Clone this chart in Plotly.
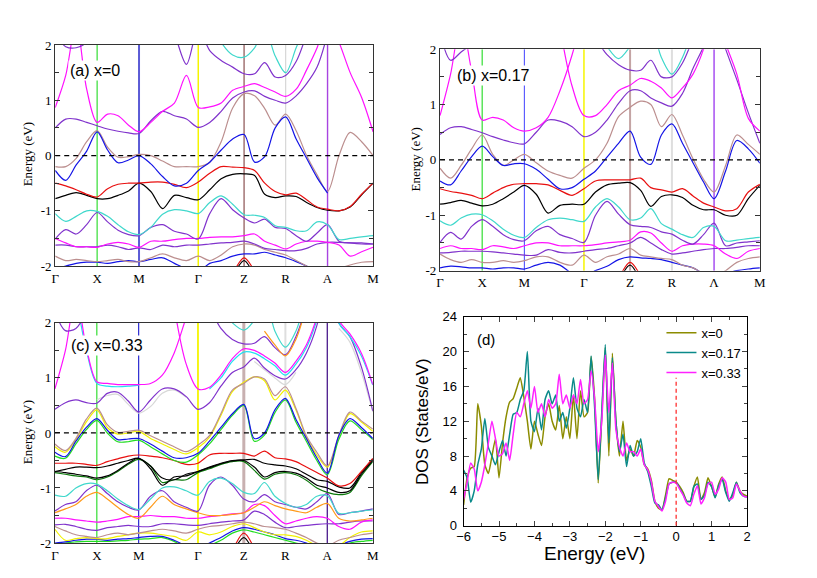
import plotly.graph_objects as go

# k-path sampling (fraction of the path), shared by the three band panels
K = [0.0, 0.0330, 0.0659, 0.0989, 0.1318, 0.1648, 0.1977, 0.2307, 0.2636, 0.3007,
     0.3378, 0.3749, 0.4130, 0.4500, 0.4861, 0.5221, 0.5582, 0.5942, 0.6272, 0.6591,
     0.6921, 0.7250, 0.7580, 0.7909, 0.8239, 0.8568, 0.8929, 0.9279, 0.9640, 1.0]
HS_K = [0.0, 0.1318, 0.2636, 0.4500, 0.5942, 0.7250, 0.8568, 1.0]
HS_LABELS = ['Γ', 'X', 'M', 'Γ', 'Z', 'R', 'A', 'M']
HS_LABELS_B = ['Γ', 'X', 'M', 'Γ', 'Z', 'R', 'Λ', 'M']

# ---------- panel (a) x=0 ----------
A_BLUE = [-0.27, -0.45, -0.17, 0.08, 0.43, 0.1, -0.13, -0.08, 0.0, -0.15, -0.38, -0.55, -0.5, -0.27, -0.12,
          0.1, 0.3, 0.38, -0.12, -0.02, 0.5, 0.7, 0.3, -0.05, -0.4, -0.68, None, None, None, None]
A_BROWN = [-0.2, -0.2, -0.05, 0.25, 0.45, 0.15, -0.03, -0.02, 0.02, 0.0, -0.1, -0.2, -0.2, -0.2, -0.12,
           0.25, 0.86, 1.12, 1.08, 0.85, 0.55, 0.75, 0.45, 0.0, -0.35, -0.65, 0.0, 0.42, 0.25, 0.0]
A_RED = [-0.5, -0.55, -0.62, -0.7, -0.75, -0.6, -0.52, -0.5, -0.5, -0.48, -0.48, -0.52, -0.58, -0.48, -0.32,
         -0.2, -0.21, -0.22, -0.27, -0.5, -0.65, -0.71, -0.68, -0.8, -0.93, -0.97, -1.0, -0.92, -0.7, -0.5]
A_BLACK = [-0.78, -0.72, -0.67, -0.72, -0.78, -0.78, -0.72, -0.64, -0.5, -0.65, -0.96, -0.72, -0.76, -0.8, -0.62,
           -0.42, -0.34, -0.33, -0.36, -0.7, -0.76, -0.73, -0.74, -0.85, -0.94, -0.99, -1.0, -0.93, -0.71, -0.5]
A_CYAN = [-1.05, -1.19, -1.1, -1.0, -1.01, -1.1, -1.25, -1.38, -1.43, -1.3, -1.06, -0.98, -1.0, -1.05, -0.85,
          -0.73, -0.88, -1.07, -1.08, -1.12, -1.27, -1.3, -1.36, -1.36, -1.2, -1.25, -1.52, -1.5, -1.47, -1.45]
A_PURPLE1 = [-1.51, -1.34, -1.42, -1.25, -1.03, -1.2, -1.35, -1.43, -1.45, -1.3, -1.25, -1.37, -1.42, -1.51, -1.05,
             -0.78, -0.98, -1.13, -1.22, -1.15, -1.3, -1.32, -1.45, -1.55, -1.4, -1.25, -1.55, -1.58, -1.6, -1.6]
A_MAGENTA_V = [-1.5, -1.58, -1.65, -1.65, -1.66, -1.6, -1.57, -1.6, -1.66, -1.55, -1.55, -1.52, -1.5, -1.5, -1.48,
               -1.47, -1.47, -1.45, -1.42, -1.55, -1.62, -1.69, -1.6, -1.55, -1.55, -1.57, -1.62, -1.82, -1.74, -1.66]
A_PURPLE2 = [-1.62, -1.62, -1.65, -1.65, -1.65, -1.62, -1.65, -1.7, -1.67, -1.7, -1.62, -1.65, -1.62, -1.62, -1.6,
             -1.58, -1.57, -1.55, -1.6, -1.68, -1.7, -1.72, -1.72, -1.68, -1.6, -1.57, -1.57, -1.58, -1.58, -1.6]
A_BROWN_LOW = [-1.82, -1.9, -1.88, -1.9, -1.92, -1.9, -1.88, -1.92, -1.92, -1.85, -1.78, -1.85, -1.9, -1.82, -1.9,
               -1.8, -1.65, -1.6, -1.62, -1.7, -1.75, -1.8, -1.9, -2.0, -2.1, -2.15, -2.05, -1.98, -1.93, -1.92]
A_BLUE_LOW = [-2.05, -2.0, -1.95, -1.93, -1.93, -1.95, -1.92, -1.9, -1.92, -1.88, -1.85, -1.95, -2.05, -2.1, -1.95,
              -1.9, -1.82, -1.78, -1.78, -1.75, -1.8, -1.85, -1.92, -2.0, -2.1, -2.2, None, None, None, None]
A_RED_LOW = [None, None, None, None, None, None, None, None, None, None, None, None, None, None, None,
             None, -2.15, -1.85, -2.1, None, None, None, None, None, None, None, None, None, None, None]
A_BLACK_LOW = [None, None, None, None, None, None, None, None, None, None, None, None, None, None, None,
               None, -2.2, -1.9, -2.2, None, None, None, None, None, None, None, None, None, None, None]
A_MAGENTA_C = [0.87, 1.45, 2.4, 1.2, 0.6, 0.75, 0.72, 0.55, 0.43, 0.6, 0.8, 0.95, 1.45, 0.87, 0.88,
               0.95, 1.18, 1.25, 1.3, 1.23, 1.15, 1.07, 1.2, 1.55, 1.95, 2.5, 2.05, 1.5, 1.05, 0.43]
A_PURPLE_C = [0.5, 0.66, 0.66, 0.6, 0.54, 0.48, 0.44, 0.41, 0.4, 0.63, 0.8, 0.72, 0.66, 0.51, 0.6,
              0.8, 1.04, 1.15, 1.17, 1.07, 1.0, 0.95, 1.08, 1.3, 1.6, 2.2, None, None, None, None]
A_PURPLE_TOP = [2.2, 1.97, 1.95, 2.05, 2.4, None, None, None, None, None, 2.6, 2.2, 1.65, 2.3, 1.9,
                1.72, 1.6, 1.48, 1.48, 1.68, 1.42, 1.45, 1.7, 2.2, None, None, None, None, None, None]
A_CYAN_TOP = [None, None, None, None, None, None, None, None, None, None, None, None, None, None, 2.5,
              2.05, 1.82, 1.78, 1.95, 2.3, 1.8, 1.5, 1.95, 2.4, None, None, None, None, None, None]

# ---------- panel (b) x=0.17 ----------
B_BLUE = [-0.38, -0.45, -0.2, 0.06, 0.25, 0.06, -0.1, -0.07, -0.07, -0.17, -0.35, -0.52, -0.5, -0.35, -0.2,
          0.05, 0.3, 0.52, 0.05, -0.08, 0.45, 0.65, 0.3, -0.05, -0.4, -0.7, -0.2, 0.35, 0.2, -0.06]
B_BROWN = [-0.15, -0.33, -0.1, 0.2, 0.45, 0.1, -0.1, 0.0, 0.1, -0.05, -0.2, -0.28, -0.33, -0.15, 0.0,
           0.3, 0.78, 0.95, 1.06, 1.0, 0.6, 0.82, 0.45, 0.02, -0.35, -0.58, -0.1, 0.45, 0.28, 0.1]
B_RED = [-0.52, -0.57, -0.6, -0.64, -0.7, -0.6, -0.5, -0.44, -0.43, -0.43, -0.45, -0.55, -0.64, -0.52, -0.38,
         -0.36, -0.36, -0.36, -0.33, -0.5, -0.54, -0.58, -0.52, -0.65, -0.78, -0.85, -0.92, -0.88, -0.58, -0.44]
B_BLACK = [-0.8, -0.77, -0.73, -0.78, -0.83, -0.8, -0.7, -0.58, -0.46, -0.62, -0.96, -0.82, -0.8, -0.8, -0.58,
           -0.45, -0.42, -0.41, -0.55, -0.84, -0.66, -0.63, -0.68, -0.82, -0.9, -0.9, -1.0, -1.0, -0.7, -0.46]
B_CYAN = [-1.1, -1.18, -1.05, -0.98, -0.99, -1.1, -1.25, -1.36, -1.4, -1.22, -1.08, -1.05, -1.08, -1.11, -0.85,
          -0.7, -0.85, -1.08, -1.05, -0.88, -1.15, -1.25, -1.35, -1.4, -1.22, -1.2, -1.46, -1.45, -1.42, -1.4]
B_PURPLE1 = [-1.49, -1.31, -1.43, -1.2, -1.08, -1.2, -1.35, -1.44, -1.46, -1.28, -1.2, -1.35, -1.42, -1.49, -1.0,
             -0.75, -0.98, -1.17, -1.2, -1.22, -1.3, -1.34, -1.45, -1.52, -1.35, -1.14, -1.55, -1.5, -1.48, -1.46]
B_MAGENTA_V = [-1.6, -1.55, -1.6, -1.6, -1.62, -1.55, -1.57, -1.6, -1.55, -1.5, -1.5, -1.55, -1.55, -1.55, -1.53,
               -1.5, -1.48, -1.45, -1.3, -1.32, -1.5, -1.65, -1.55, -1.52, -1.52, -1.55, -1.7, -1.78, -1.65, -1.6]
B_PURPLE2 = [-1.68, -1.67, -1.65, -1.65, -1.65, -1.66, -1.68, -1.7, -1.72, -1.72, -1.62, -1.67, -1.68, -1.65, -1.62,
             -1.6, -1.55, -1.5, -1.4, -1.5, -1.62, -1.7, -1.68, -1.65, -1.62, -1.6, -1.6, -1.58, -1.55, -1.55]
B_BROWN_LOW = [-1.7, -1.8, -1.85, -1.8, -1.85, -1.85, -1.82, -1.85, -1.82, -1.75, -1.75, -1.85, -1.9, -1.72, -1.85,
               -1.75, -1.7, -1.6, -1.72, -1.75, -1.78, -1.8, -1.9, -1.95, -2.05, -2.1, -2.0, -1.85, -1.78, -1.75]
B_BLUE_LOW = [-1.95, -1.92, -1.93, -1.95, -1.95, -1.97, -1.95, -1.95, -1.97, -1.9, -1.85, -1.9, -2.05, -2.1, -2.0,
              -1.92, -1.8, -1.75, -1.77, -1.78, -1.8, -1.85, -1.9, -1.95, -2.05, -2.1, -2.05, -2.0, -1.97, -1.95]
B_RED_LOW = [None, None, None, None, None, None, None, None, None, None, None, None, None, None, None,
             None, -2.15, -1.85, -2.1, None, None, None, None, None, None, None, None, None, None, None]
B_BLACK_LOW = [None, None, None, None, None, None, None, None, None, None, None, None, None, None, None,
               None, -2.2, -1.9, -2.2, None, None, None, None, None, None, None, None, None, None, None]
B_MAGENTA_C1 = [0.8, 1.55, 2.5, 1.6, 0.72, 0.77, 0.72, 0.58, 0.52, 0.58, 0.77, 1.25, 1.9, 2.7, None,
                None, None, None, None, None, None, None, None, None, None, None, None, None, None, None]
B_MAGENTA_C2 = [None, None, None, None, None, None, None, None, None, None, None, 2.4, 1.33, 0.8, 0.8,
                1.0, 1.25, 1.35, 1.47, 1.42, 1.3, 1.12, 1.3, 1.55, 2.0, 2.7, 2.1, 1.55, 0.75, 0.52]
B_PURPLE_C = [0.46, 0.58, 0.6, 0.55, 0.49, 0.42, 0.36, 0.31, 0.29, 0.5, 0.72, 0.7, 0.6, 0.42, 0.5,
              0.72, 1.02, 1.25, 1.25, 1.12, 1.03, 0.97, 1.2, 1.65, 2.05, 2.6, 2.0, 1.45, 0.85, 0.3]
B_PURPLE_TOP = [2.3, 1.8, 1.95, 2.1, 2.5, None, None, None, None, None, None, None, None, None, 2.2,
                1.9, 1.72, 1.62, 1.62, 1.8, 1.5, 1.5, 1.75, 2.2, None, None, None, None, None, None]
B_CYAN_TOP = [None, None, None, None, None, None, None, None, None, None, None, None, None, None, 2.5,
              2.05, 1.83, 2.05, 2.4, 2.4, 1.85, 1.55, 1.85, 2.4, None, None, None, None, None, None]

# ---------- panel (c) x=0.33 ----------
C_BLUE = [-0.35, -0.43, -0.15, 0.1, 0.26, 0.05, -0.12, -0.11, -0.1, -0.2, -0.33, -0.45, -0.45, -0.37, -0.15,
          0.1, 0.35, 0.52, -0.1, 0.0, 0.42, 0.63, 0.25, -0.1, -0.45, -0.73, -0.05, 0.26, 0.1, -0.1]
C_GREEN = [-0.42, -0.46, -0.2, 0.06, 0.23, 0.0, -0.16, -0.16, -0.13, -0.25, -0.38, -0.5, -0.53, -0.4, -0.2,
           0.06, 0.32, 0.5, -0.15, -0.04, 0.37, 0.6, 0.2, -0.15, -0.5, -0.76, -0.12, 0.22, 0.06, -0.12]
C_BROWN = [-0.2, -0.32, -0.1, 0.25, 0.45, 0.15, 0.01, 0.03, 0.05, -0.05, -0.15, -0.25, -0.34, -0.22, -0.05,
           0.35, 0.78, 0.9, 1.02, 0.98, 0.68, 0.84, 0.45, -0.05, -0.35, -0.6, -0.05, 0.38, 0.22, 0.07]
C_YELLOW = [-0.25, -0.35, -0.12, 0.2, 0.42, 0.1, -0.02, 0.0, 0.03, -0.1, -0.2, -0.3, -0.38, -0.27, -0.08,
            0.32, 0.75, 0.92, 1.02, 0.95, 0.6, 0.78, 0.42, -0.08, -0.4, -0.62, -0.08, 0.35, 0.2, 0.03]
C_RED = [-0.55, -0.55, -0.55, -0.57, -0.59, -0.52, -0.47, -0.42, -0.4, -0.42, -0.45, -0.5, -0.57, -0.55, -0.4,
         -0.37, -0.37, -0.37, -0.42, -0.33, -0.45, -0.47, -0.52, -0.62, -0.72, -0.82, -0.96, -0.92, -0.7, -0.46]
C_BLACK1 = [-0.7, -0.66, -0.62, -0.62, -0.63, -0.6, -0.55, -0.5, -0.46, -0.6, -0.82, -0.85, -0.75, -0.7, -0.62,
            -0.55, -0.5, -0.49, -0.48, -0.55, -0.58, -0.6, -0.65, -0.75, -0.85, -0.88, -0.98, -1.0, -0.72, -0.47]
C_BLACK2 = [-0.7, -0.72, -0.75, -0.78, -0.82, -0.78, -0.68, -0.55, -0.46, -0.65, -0.95, -0.8, -0.78, -0.7, -0.63,
            -0.56, -0.51, -0.5, -0.62, -0.8, -0.72, -0.7, -0.73, -0.82, -0.95, -1.0, -1.08, -1.05, -0.75, -0.5]
C_DKGREEN = [-0.72, -0.75, -0.78, -0.8, -0.85, -0.8, -0.7, -0.57, -0.48, -0.6, -0.9, -0.85, -0.85, -0.72, -0.65,
             -0.57, -0.52, -0.52, -0.68, -0.84, -0.75, -0.72, -0.76, -0.86, -1.0, -1.08, -1.12, -1.08, -0.78, -0.52]
C_CYAN = [-1.13, -1.15, -1.0, -0.92, -0.93, -1.05, -1.2, -1.32, -1.39, -1.2, -1.0, -0.98, -1.05, -1.13, -0.88,
          -0.82, -0.92, -1.08, -1.1, -0.9, -1.15, -1.28, -1.35, -1.3, -1.15, -1.14, -1.46, -1.45, -1.42, -1.4]
C_PURPLE1 = [-1.42, -1.3, -1.25, -1.05, -0.95, -1.1, -1.25, -1.35, -1.4, -1.15, -1.05, -1.25, -1.35, -1.42, -0.95,
             -0.8, -0.95, -1.2, -1.25, -1.12, -1.25, -1.3, -1.35, -1.38, -1.25, -1.1, -1.48, -1.45, -1.42, -1.38]
C_ORANGE = [-1.45, -1.38, -1.3, -1.15, -1.08, -1.2, -1.35, -1.48, -1.55, -1.35, -1.15, -1.3, -1.38, -1.45, -1.5,
            -1.5, -1.48, -1.45, -1.35, -1.25, -1.32, -1.38, -1.42, -1.45, -1.35, -1.28, -1.55, -1.6, -1.58, -1.55]
C_MAGENTA_V = [-1.55, -1.55, -1.58, -1.6, -1.62, -1.6, -1.57, -1.52, -1.52, -1.5, -1.52, -1.52, -1.55, -1.55, -1.52,
               -1.5, -1.47, -1.45, -1.3, -1.32, -1.5, -1.65, -1.6, -1.55, -1.52, -1.55, -1.7, -1.75, -1.62, -1.58]
C_PURPLE2 = [-1.67, -1.66, -1.7, -1.75, -1.77, -1.72, -1.7, -1.68, -1.7, -1.7, -1.65, -1.65, -1.67, -1.68, -1.65,
             -1.62, -1.6, -1.58, -1.42, -1.48, -1.62, -1.72, -1.7, -1.68, -1.66, -1.65, -1.65, -1.62, -1.6, -1.6]
C_BROWN_LOW = [-1.7, -1.78, -1.85, -1.88, -1.9, -1.85, -1.82, -1.85, -1.82, -1.78, -1.75, -1.78, -1.82, -1.75, -1.7,
               -1.68, -1.65, -1.62, -1.65, -1.7, -1.72, -1.75, -1.82, -1.9, -2.0, -2.05, -1.95, -1.9, -1.85, -1.82]
C_YELLOW_LOW = [-1.75, -1.95, -1.92, -1.9, -1.92, -1.92, -1.88, -1.85, -1.82, -1.82, -1.85, -1.88, -1.95, -1.8, -1.85,
                -1.8, -1.7, -1.65, -1.72, -1.8, -1.85, -1.85, -1.88, -1.95, -2.05, -2.1, -2.05, -1.9, -1.8, -1.78]
C_BLUE_LOW = [-2.0, -1.98, -1.95, -1.93, -1.93, -1.95, -1.93, -1.92, -1.9, -1.88, -1.88, -1.95, -2.05, -2.1, -2.0,
              -1.9, -1.78, -1.72, -1.75, -1.8, -1.85, -1.92, -1.95, -2.0, -2.1, -2.15, -2.05, -1.97, -1.93, -1.92]
C_GREEN_LOW = [-2.05, -2.0, -1.98, -1.97, -1.97, -1.97, -1.96, -1.95, -1.93, -1.92, -1.9, -1.97, -2.1, -2.2, -2.05,
               -1.95, -1.82, -1.76, -1.8, -1.85, -1.9, -1.95, -2.0, -2.05, -2.15, -2.2, -2.1, -2.0, -1.97, -1.95]
C_RED_LOW = [None, None, None, None, None, None, None, None, None, None, None, None, None, None, None,
             None, -2.15, -1.82, -2.1, None, None, None, None, None, None, None, None, None, None, None]
C_BLACK_LOW = [None, None, None, None, None, None, None, None, None, None, None, None, None, None, None,
               None, -2.2, -1.9, -2.2, None, None, None, None, None, None, None, None, None, None, None]
C_MAGENTA_C1 = [0.8, 1.5, 2.5, 1.55, 0.93, 0.9, 0.88, 0.88, 0.88, 0.9, 1.05, 1.45, 2.1, 2.7, None,
                None, None, None, None, None, None, None, None, None, None, None, None, None, None, None]
C_MAGENTA_C2 = [None, None, None, None, None, None, None, None, None, None, None, 2.3, 1.25, 0.8, 0.83,
                1.05, 1.35, 1.53, 1.5, 1.4, 1.27, 1.1, 1.3, 1.6, 2.1, 2.8, 2.05, 1.8, 1.45, 0.88]
C_CYAN_C = [None, None, 2.5, 1.5, 0.9, 0.85, 0.84, 0.85, 0.87, None, None, None, None, None, 0.8,
            1.0, 1.3, 1.47, 1.45, 1.35, 1.22, 1.05, 1.25, 1.55, 2.05, 2.8, 2.0, 1.75, 1.4, 0.87]
C_PURPLE_C = [0.43, 0.55, 0.6, 0.55, 0.54, 0.72, 0.74, 0.58, 0.38, 0.6, 0.8, 0.8, 0.66, 0.43, 0.55,
              0.85, 1.1, 1.2, 1.36, 1.18, 1.04, 0.98, 1.15, 1.45, 1.95, 2.8, 2.0, 1.75, 1.2, 0.4]
C_GRAY_C = [None, None, None, None, 0.6, 0.68, 0.7, 0.52, 0.36, 0.48, 0.72, 0.78, 0.65, None, None,
            None, None, None, 1.3, 1.15, 1.0, 0.88, 1.1, None, None, None, 1.9, 1.65, 1.1, 0.38]
C_PURPLE_TOP = [2.2, 1.86, 1.9, 2.2, None, None, None, None, None, None, None, None, None, None, 2.3,
                1.9, 1.7, 1.62, 1.63, 1.75, 1.55, 1.42, 1.75, 2.3, None, None, None, None, None, None]
C_ORANGE_TOP = [None, None, None, None, None, None, None, None, None, None, None, None, None, None, None,
                None, None, None, None, 1.85, 1.6, 1.4, 1.7, 2.3, None, None, None, None, None, None]
C_CYAN_TOP = [None, None, None, None, None, None, None, None, None, None, None, None, None, None, None,
              None, 2.0, 1.87, 2.05, 2.5, 1.85, 1.56, 1.85, 2.5, None, None, None, None, None, None]

# ---------- panel (d) DOS ----------
DOS_E = [-6.0, -5.9, -5.8, -5.7, -5.6, -5.5, -5.4, -5.3, -5.2, -5.1,
         -5.0, -4.9, -4.8, -4.7, -4.6, -4.5, -4.4, -4.3, -4.2, -4.1,
         -4.0, -3.9, -3.8, -3.7, -3.6, -3.5, -3.4, -3.3, -3.2, -3.1,
         -3.0, -2.9, -2.8, -2.7, -2.6, -2.5, -2.4, -2.3, -2.2, -2.1,
         -2.0, -1.9, -1.8, -1.7, -1.6, -1.5, -1.4, -1.3, -1.2, -1.1,
         -1.0, -0.9, -0.8, -0.7, -0.6, -0.5, -0.4, -0.3, -0.2, -0.1,
         0.0, 0.1, 0.2, 0.3, 0.4, 0.5, 0.6, 0.7, 0.8, 0.9,
         1.0, 1.1, 1.2, 1.3, 1.4, 1.5, 1.6, 1.7, 1.8, 1.9, 2.0]
DOS_X0 = [2.4, 5.5, 6.6, 6.8, 14.0, 11.5, 7.0, 6.0, 8.0, 10.0,
          5.5, 9.5, 12.5, 14.2, 14.6, 15.8, 17.0, 14.8, 12.0, 8.8,
          12.0, 10.5, 9.2, 12.5, 14.0, 12.0, 11.0, 13.8, 10.0, 12.5,
          10.0, 15.0, 10.0, 15.5, 12.5, 13.0, 19.4, 14.5, 4.9, 12.5,
          20.5, 8.0, 19.8, 12.0, 8.0, 12.0, 7.5, 8.8, 8.0, 9.8,
          9.0, 7.0, 6.5, 5.2, 2.8, 2.0, 1.8, 3.5, 5.4, 5.2,
          5.0, 4.5, 3.8, 2.8, 2.8, 4.5, 5.6, 3.0, 3.8, 5.5,
          4.5, 3.3, 4.8, 5.6, 4.0, 3.0, 3.5, 5.0, 4.0, 3.6, 3.4]
DOS_X017 = [6.4, 5.5, 2.7, 4.0, 7.0, 8.8, 12.3, 9.0, 8.0, 7.0,
            8.5, 9.8, 8.0, 10.5, 12.8, 13.0, 14.5, 15.5, 20.0, 12.0,
            10.8, 13.5, 11.0, 14.5, 15.5, 14.0, 15.0, 12.0, 13.0, 11.2,
            13.5, 17.0, 13.5, 12.5, 14.5, 13.0, 19.5, 13.5, 5.3, 13.0,
            20.8, 9.5, 19.3, 12.0, 8.5, 10.5, 6.8, 9.2, 8.0, 8.5,
            10.0, 7.2, 6.2, 4.5, 2.6, 2.4, 1.8, 3.2, 4.8, 5.0,
            5.0, 4.3, 3.6, 2.8, 2.8, 4.5, 4.8, 3.0, 3.5, 5.0,
            4.5, 3.2, 4.6, 5.3, 3.8, 2.8, 3.8, 5.0, 3.8, 3.4, 3.3]
DOS_X033 = [3.0, 5.0, 7.2, 6.5, 4.0, 5.0, 7.0, 9.5, 12.0, 10.0,
            8.0, 8.3, 9.5, 7.5, 10.5, 13.0, 12.5, 14.0, 15.5, 13.5,
            16.0, 13.0, 14.0, 12.5, 14.5, 13.5, 14.0, 17.4, 14.0, 15.0,
            13.5, 15.0, 14.0, 16.8, 14.0, 14.5, 17.8, 14.5, 8.5, 12.0,
            19.6, 13.0, 18.7, 11.0, 9.0, 8.0, 9.5, 8.5, 8.5, 8.0,
            8.8, 7.0, 6.4, 5.0, 2.8, 2.2, 1.7, 2.8, 4.8, 5.0,
            4.9, 4.2, 3.5, 2.6, 2.3, 3.6, 4.6, 2.5, 3.2, 4.8,
            5.0, 3.6, 4.2, 5.5, 5.0, 3.0, 3.2, 4.8, 4.0, 3.4, 3.3]
FERMI_DOS_TOP = 17

BLUE, RED, BLACK = '#1414e6', '#e81010', '#000000'
CYAN, PURPLE, MAGENTA = '#40d8cc', '#8033cc', '#ff10ff'
BROWN, YELLOW, ORANGE = '#bc8f8f', '#f2f200', '#ff9a1a'
GREEN, DKGREEN, GRAY = '#22dd22', '#0b7a0b', '#d8d8d8'

bands_a = [(A_BLUE_LOW, BLUE), (A_BROWN_LOW, BROWN), (A_PURPLE2, PURPLE), (A_MAGENTA_V, MAGENTA),
           (A_PURPLE1, PURPLE), (A_CYAN, CYAN), (A_BLACK, BLACK), (A_RED, RED), (A_BROWN, BROWN),
           (A_BLUE, BLUE), (A_PURPLE_C, PURPLE), (A_MAGENTA_C, MAGENTA), (A_PURPLE_TOP, PURPLE),
           (A_CYAN_TOP, CYAN), (A_BLACK_LOW, BLACK), (A_RED_LOW, RED)]
bands_b = [(B_BLUE_LOW, BLUE), (B_BROWN_LOW, BROWN), (B_PURPLE2, PURPLE), (B_MAGENTA_V, MAGENTA),
           (B_PURPLE1, PURPLE), (B_CYAN, CYAN), (B_BLACK, BLACK), (B_RED, RED), (B_BROWN, BROWN),
           (B_BLUE, BLUE), (B_PURPLE_C, PURPLE), (B_MAGENTA_C1, MAGENTA), (B_MAGENTA_C2, MAGENTA),
           (B_PURPLE_TOP, PURPLE), (B_CYAN_TOP, CYAN), (B_BLACK_LOW, BLACK), (B_RED_LOW, RED)]
bands_c = [(C_GREEN_LOW, GREEN), (C_BLUE_LOW, BLUE), (C_YELLOW_LOW, YELLOW), (C_BROWN_LOW, BROWN),
           (C_PURPLE2, PURPLE), (C_MAGENTA_V, MAGENTA), (C_ORANGE, ORANGE), (C_PURPLE1, PURPLE),
           (C_CYAN, CYAN), (C_DKGREEN, DKGREEN), (C_BLACK2, BLACK), (C_BLACK1, BLACK), (C_RED, RED),
           (C_YELLOW, YELLOW), (C_BROWN, BROWN), (C_GREEN, GREEN), (C_BLUE, BLUE), (C_GRAY_C, GRAY),
           (C_PURPLE_C, PURPLE), (C_CYAN_C, '#22e0f0'), (C_MAGENTA_C1, MAGENTA), (C_MAGENTA_C2, MAGENTA),
           (C_PURPLE_TOP, PURPLE), (C_ORANGE_TOP, ORANGE), (C_CYAN_TOP, CYAN),
           (C_BLACK_LOW, BLACK), (C_RED_LOW, RED)]

# colours/widths of the high-symmetry guide lines (inner points only)
vlines_a = [('#33dd33', 1.2), ('#5b5bd6', 2.0), ('#f5f500', 1.5), ('#a87c7c', 1.6), ('#d6d6d6', 1.2), ('#a844e0', 1.4)]
vlines_b = [('#33dd33', 1.2), ('#4040ff', 1.0), ('#f5f500', 1.5), ('#c4a4a4', 2.0), ('#dedede', 2.0), ('#9933ee', 1.3)]
vlines_c = [('#33dd33', 1.2), ('#0000c8', 1.0), ('#f5f500', 1.8), ('#c8b0b0', 3.0), ('#dedede', 2.0), ('#4b1a8c', 1.3)]

fig = go.Figure()
shapes = []

def add_band_panel(idx, bands, vlines):
    xa, ya = 'x%d' % idx, 'y%d' % idx
    for vals, color in bands:
        fig.add_trace(go.Scatter(x=K, y=vals, mode='lines', xaxis=xa, yaxis=ya,
                                 line=dict(color=color, width=1.2, shape='spline', smoothing=0.9),
                                 showlegend=False, hoverinfo='skip', connectgaps=False))
    for kx, (col, w) in zip(HS_K[1:-1], vlines):
        shapes.append(dict(type='line', xref=xa, yref=ya, x0=kx, x1=kx, y0=-2, y1=2,
                           line=dict(color=col, width=w), layer='below'))
    shapes.append(dict(type='line', xref=xa, yref=ya, x0=0, x1=1, y0=0, y1=0,
                       line=dict(color='black', width=1.3, dash='5px,4px')))

add_band_panel(1, bands_a, vlines_a)
add_band_panel(2, bands_b, vlines_b)
add_band_panel(3, bands_c, vlines_c)

for name, vals, col in [('x=0', DOS_X0, '#8c8c00'), ('x=0.17', DOS_X017, '#0a8a8a'), ('x=0.33', DOS_X033, '#ff22ff')]:
    fig.add_trace(go.Scatter(x=DOS_E, y=vals, mode='lines', name=name, xaxis='x4', yaxis='y4',
                             line=dict(color=col, width=1.5, shape='spline', smoothing=0.5),
                             hoverinfo='skip'))
shapes.append(dict(type='line', xref='x4', yref='y4', x0=0, x1=0, y0=0, y1=FERMI_DOS_TOP,
                   line=dict(color='#ff3030', width=1.3, dash='4px,3px')))

serif = 'Times New Roman, Liberation Serif, serif'
sans = 'Arial, Liberation Sans, sans-serif'

def band_axes(xdom, ydom, labels, anchor):
    xa = dict(domain=xdom, anchor='y' + anchor, range=[0, 1], tickvals=HS_K, ticktext=labels, ticks='',
              showline=True, mirror=True, linecolor='#333333', linewidth=1.2,
              showgrid=False, zeroline=False, tickfont=dict(family=serif, size=13, color='black'))
    ya = dict(domain=ydom, anchor='x' + anchor, range=[-2, 2], tickvals=[-2, -1, 0, 1, 2],
              ticktext=['-2', '-1', '0', '1', '2'], ticks='inside', ticklen=5, tickcolor='#333333',
              minor=dict(dtick=0.5, ticks='inside', ticklen=4, tickcolor='#333333'),
              showline=True, mirror='ticks', linecolor='#333333', linewidth=1.2,
              showgrid=False, zeroline=False, tickfont=dict(family=serif, size=13, color='black'))
    return xa, ya

xa1, ya1 = band_axes([0.0600, 0.4553], [0.5398, 0.9325], HS_LABELS, '1')
xa2, ya2 = band_axes([0.5386, 0.9364], [0.5317, 0.9251], HS_LABELS_B, '2')
xa3, ya3 = band_axes([0.0596, 0.4550], [0.0479, 0.4389], HS_LABELS, '3')

xa4 = dict(domain=[0.5679, 0.9204], anchor='y4', range=[-6, 2], dtick=1, ticks='inside', ticklen=5,
           minor=dict(dtick=0.5, ticks='inside', ticklen=3), showline=True, mirror='ticks',
           linecolor='black', linewidth=1.2, showgrid=False, zeroline=False, ticklabelstandoff=-1,
           tickfont=dict(family=sans, size=13, color='black'))
ya4 = dict(domain=[0.0787, 0.4498], anchor='x4', range=[0, 24], dtick=4, ticks='inside', ticklen=5,
           minor=dict(dtick=2, ticks='inside', ticklen=3), showline=True, mirror='ticks',
           linecolor='black', linewidth=1.2, showgrid=False, zeroline=False, ticklabelstandoff=3,
           tickfont=dict(family=sans, size=13, color='black'))

annotations = []
for text, x, y, size in [('(a) x=0', 0.0759, 0.8875, 16), ('(b) x=0.17', 0.557, 0.879, 16),
                         ('(c) x=0.33', 0.0767, 0.3985, 16), ('(d)', 0.582, 0.4089, 15)]:
    annotations.append(dict(text=text, x=x, y=y, xref='paper', yref='paper', xanchor='left',
                            yanchor='middle', showarrow=False, bgcolor='white', borderpad=1,
                            font=dict(family=sans, size=size, color='black')))

# axis titles placed as text in paper coordinates
for text, x, y, fam, size, angle in [('Energy (eV)', 0.0250, 0.7385, serif, 13, -90),
                                     ('Energy (eV)', 0.5080, 0.7300, serif, 13, -90),
                                     ('Energy (eV)', 0.0257, 0.2440, serif, 13, -90),
                                     ('DOS (States/eV)', 0.5170, 0.2640, sans, 17, -90),
                                     ('Energy (eV)', 0.7310, 0.0300, sans, 19, 0)]:
    annotations.append(dict(text=text, x=x, y=y, xref='paper', yref='paper', xanchor='center',
                            yanchor='middle', showarrow=False, textangle=angle,
                            font=dict(family=fam, size=size, color='black')))

fig.update_layout(width=817, height=578, autosize=False, margin=dict(l=0, r=0, t=0, b=0),
                  paper_bgcolor='white', plot_bgcolor='white',
                  xaxis=xa1, yaxis=ya1, xaxis2=xa2, yaxis2=ya2, xaxis3=xa3, yaxis3=ya3,
                  xaxis4=xa4, yaxis4=ya4, shapes=shapes, annotations=annotations,
                  legend=dict(x=0.814, y=0.4481, xanchor='left', yanchor='top', bgcolor='rgba(0,0,0,0)',
                              font=dict(family=sans, size=13, color='black'), tracegroupgap=0,
                              itemwidth=30))

# page body margin removed so the figure sits at the top-left corner of the window
fig.write_html('out.html', config={'displayModeBar': False},
               post_script="document.body.style.margin='0px';")
